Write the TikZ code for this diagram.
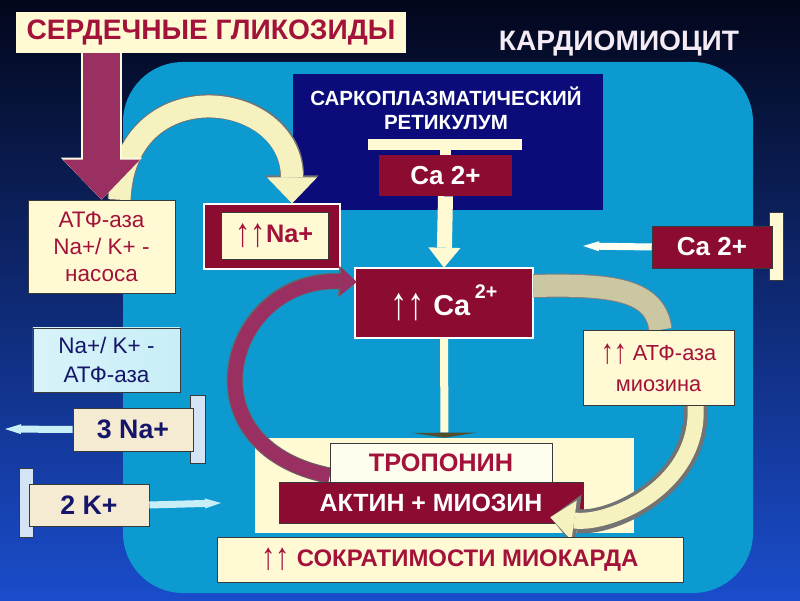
\documentclass[tikz,border=0pt]{standalone}
\usepackage{fontspec}
\setmainfont{Liberation Sans}
\usepackage{graphicx}
\usepackage{tikz}
\usetikzlibrary{arrows.meta,calc}
\definecolor{bgtop}{HTML}{03071C}
\definecolor{bgbot}{HTML}{1A4CCB}
\definecolor{cellblue}{HTML}{0C9AD0}
\definecolor{cream}{HTML}{FFFAD4}
\definecolor{wine}{HTML}{8C0B30}
\definecolor{winetext}{HTML}{A3123A}
\definecolor{navy}{HTML}{0B0B7A}
\definecolor{ink}{HTML}{15156A}
\definecolor{plum}{HTML}{9A3062}
\definecolor{pale}{HTML}{F6F2C0}
\definecolor{sand}{HTML}{CBC7A2}
\definecolor{ice}{HTML}{C8EEF7}
\definecolor{beige}{HTML}{F5EAD2}
\definecolor{barblue}{HTML}{D4E4F4}
\definecolor{edge}{HTML}{3A3A3A}
\newcommand\upup{{\mdseries\raisebox{-.25ex}{\scalebox{1.2}[1.6]{↑↑}}}}
\tikzset{box/.style={inner sep=0pt,align=center},creambox/.style={box,fill=cream,draw=edge,line width=.4pt,text=winetext},winebox/.style={box,fill=wine,text=white,font=\fontsize{18.5}{22}\selectfont\bfseries},inkbox/.style={box,draw=edge,line width=.4pt,text=ink},thinarr/.style={-{Triangle[width=.25cm,length=.4cm,line width=0pt]},draw=ice,line width=.175cm},plumarc/.style={-{Triangle[width=.7cm,length=.4cm,line width=0pt]},draw=plum,line width=.36cm,preaction={draw=black!60,line width=.41cm,-{Triangle[width=.78cm,length=.45cm,line width=0pt]}}},palearc/.style={-{Triangle[width=1.25cm,length=.65cm,line width=0pt]},draw=pale,line width=.55cm,preaction={draw=black!55,line width=.6cm,-{Triangle[width=1.33cm,length=.7cm,line width=0pt]}}}}
\begin{document}
\begin{tikzpicture}[x=0.025cm,y=0.025cm]
\shade[top color=bgtop,bottom color=bgbot,middle color=bgtop!50!bgbot] (0,0) rectangle (800,600);\fill[cellblue,rounded corners=1.5cm] (123,7) rectangle (753,538);
\node[creambox,draw=none,minimum width=9.75cm,minimum height=1.025cm,font=\fontsize{20}{24}\selectfont\bfseries] (title) at (211,567.5) {СЕРДЕЧНЫЕ ГЛИКОЗИДЫ};
\node[text=white!92!violet,font=\fontsize{20}{24}\selectfont\bfseries] (cell) at (619,557) {КАРДИОМИОЦИТ};
\node[box,fill=navy,minimum width=7.75cm,minimum height=3.4cm] (sr) at (448,458) {};\node[box,text=white,font=\fontsize{14.6}{17}\selectfont\bfseries] (srtext) at (446,492) {САРКОПЛАЗМАТИЧЕСКИЙ\\РЕТИКУЛУМ};
\fill[cream] (368,450) rectangle (522,461);\fill[cream] (440,444) rectangle (451,450);
\node[winebox,minimum width=3.325cm,minimum height=1.025cm] (srca) at (445.5,424.5) {Ca 2+};
\node[creambox,minimum width=3.675cm,minimum height=2.325cm,font=\fontsize{16}{19.2}\selectfont] (pump) at (101.5,353.5) {АТФ-аза\\Na+/ K+ -\\насоса};
\node[box,minimum width=3.4cm,minimum height=1.625cm,fill=wine,draw=white,line width=.8pt] (naout) at (272,363.5) {};
\draw[palearc] ($(pump.north)+(18,0)$) .. controls +(5,130) and +(0,115) .. ($(naout.north)+(20,0)$);
\draw[-{Triangle[width=1.925cm,length=1cm,line width=0pt]},draw=plum,line width=.925cm,preaction={draw=cream!70!white,line width=1cm,-{Triangle[width=2.03cm,length=1.05cm,line width=0pt]}}] (pump.north |- title.south) -- (pump.north);
\node[creambox,minimum width=3.675cm,minimum height=2.325cm,font=\fontsize{16}{19.2}\selectfont] at (pump) {АТФ-аза\\Na+/ K+ -\\насоса};
\node[creambox,draw=edge,minimum width=2.675cm,minimum height=1.175cm,font=\fontsize{18}{22}\selectfont] (na) at (274.5,364.5) {\upup\textbf{Na+}};
\node[inkbox,left color=ice!70!white,right color=ice,minimum width=3.675cm,minimum height=1.6cm,font=\fontsize{16}{20}\selectfont] (atpase) at (106.5,240) {Na+/ K+ -\\АТФ-аза};
\fill[barblue,draw=edge,line width=.3pt] (190,137) rectangle (205,205);\fill[barblue,draw=edge,line width=.3pt] (19,63) rectangle (33,132);
\coordinate (naend) at (5,171);\coordinate (kend) at (221,97);
\node[inkbox,fill=beige,minimum width=3cm,minimum height=1.075cm,font=\fontsize{19}{23}\selectfont\bfseries] (na3) at (133,170.5) {3 Na+};
\node[inkbox,fill=beige,minimum width=3cm,minimum height=1.05cm,font=\fontsize{19}{23}\selectfont\bfseries] (k2) at (89,95) {2 K+};
\draw[thinarr] (na3.west) -- (naend);\draw[thinarr] (k2.east) -- (kend);
\node[box,minimum width=4.45cm,minimum height=1.75cm] (caup) at (444,297) {};
\draw[-{Triangle[width=.8cm,length=.5cm,line width=0pt]},draw=cream,line width=.375cm] (srca.south) -- (caup.north);
\node[winebox,draw=white,line width=1pt,minimum width=4.45cm,minimum height=1.75cm,font=\fontsize{20.5}{24}\selectfont\bfseries] at (caup) {\upup\ Ca\,\raisebox{1.1ex}{\fontsize{14}{16}\selectfont 2+}};
\node[box,fill=cream,minimum width=9.475cm,minimum height=2.375cm] (panel) at (444.5,114.5) {};
\draw[-{Triangle[width=1.625cm,length=.125cm,line width=0pt,color=black!55!olive]},draw=cream,line width=.2cm] (caup.south) -- (panel.north);
\draw[plumarc] ($(panel.north west)+(75,-38)$) .. controls +(-150,30) and +(-130,5) .. ($(caup.west)+(2,21)$);
\node[creambox,fill=white!60!cream,minimum width=5.55cm,minimum height=.975cm,font=\fontsize{18}{22}\selectfont\bfseries] (trop) at (441,137.5) {ТРОПОНИН};
\node[winebox,draw=edge,line width=.4pt,minimum width=7.6cm,minimum height=1.025cm,font=\fontsize{17.7}{22}\selectfont\bfseries] (actin) at (431,97.5) {АКТИН + МИОЗИН};
\fill[cream,draw=edge,line width=.3pt] (769,320) rectangle (783,388);
\node[winebox,draw=edge,line width=.4pt,minimum width=3cm,minimum height=1.05cm] (caext) at (712,353) {Ca 2+};
\coordinate (caend) at (583,354);\draw[thinarr,draw=white!95!yellow] (caext.west) -- (caend);
\node[box,minimum width=3.775cm,minimum height=1.875cm] (myo) at (658.5,232.5) {};
\draw[draw=sand,line width=.55cm,preaction={draw=black!50,line width=.6cm}] ($(caup.east)+(0,17)$) .. controls +(80,2) and +(-5,40) .. ($(myo.north)+(2,0)$);
\draw[palearc,line width=.4cm,-{Triangle[width=1cm,length=.6cm,line width=0pt]},preaction={draw=black!55,line width=.45cm,-{Triangle[width=1.08cm,length=.65cm,line width=0pt]}}] ($(myo.south)+(37,0)$) .. controls +(5,-80) and +(60,-8) .. ($(actin.south east)+(-33,6)$);
\node[creambox,minimum width=3.775cm,minimum height=1.875cm,font=\fontsize{15.5}{22}\selectfont] at (myo) {\upup\ АТФ-аза\\миозина};
\node[creambox,minimum width=11.65cm,minimum height=1.125cm,font=\fontsize{17}{21}\selectfont] (contr) at (450,40.5) {\upup\ \textbf{СОКРАТИМОСТИ МИОКАРДА}};
\end{tikzpicture}
\end{document}
